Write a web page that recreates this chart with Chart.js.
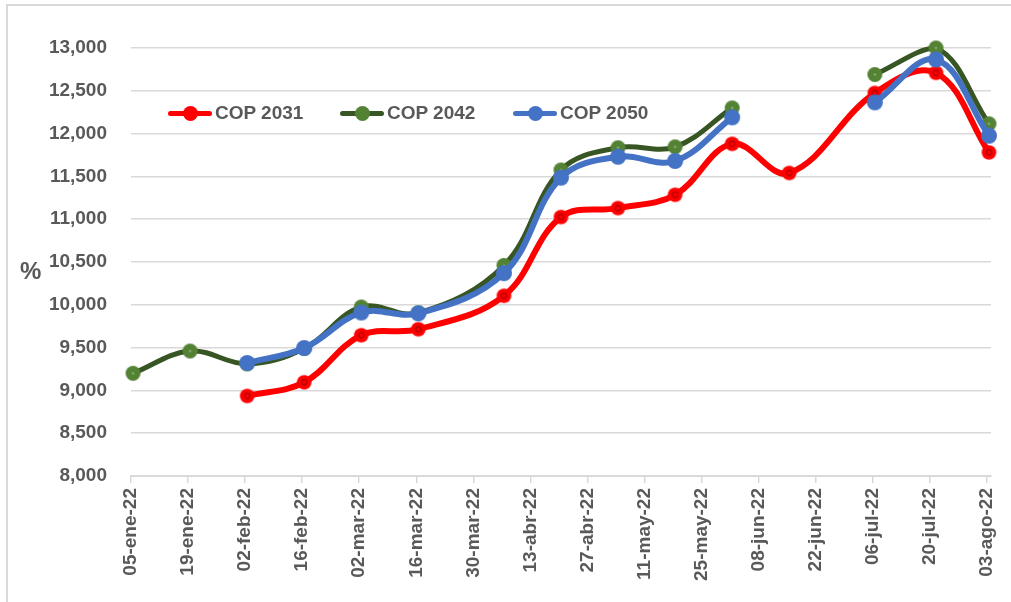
<!DOCTYPE html>
<html>
<head>
<meta charset="utf-8">
<script src="https://cdn.jsdelivr.net/npm/chart.js@4.4.1/dist/chart.umd.min.js"></script>
<style>
  html, body { margin: 0; padding: 0; background: #ffffff; overflow: hidden; }
  #wrap { position: relative; width: 1011px; height: 602px; overflow: hidden; }
  #frame { position: absolute; left: 6px; top: 4px; width: 1100px; height: 700px; border: 2px solid #D9D9D9; box-sizing: border-box; }
  canvas { position: absolute; left: 0; top: 0; }
  .lbl { position: absolute; font-family: "Liberation Sans", Arial, sans-serif; font-weight: bold; color: #595959; }
  .leg { position: absolute; height: 24px; }
  .leg .ln { position: absolute; left: 0; top: 10px; width: 44px; height: 5px; border-radius: 3px; }
  .leg .mk { position: absolute; left: 15px; top: 5px; width: 15px; height: 15px; border-radius: 50%; }
  .leg .tx { position: absolute; left: 47px; top: 0; font-family: "Liberation Sans", Arial, sans-serif; font-weight: bold; font-size: 19px; line-height: 24px; color: #595959; white-space: nowrap; }
</style>
</head>
<body>
<div id="wrap">
  <div id="frame"></div>
  <canvas id="c" width="1011" height="602"></canvas>
  <div class="lbl" id="pct" style="left:20px; top:256px; font-size:24px; line-height:30px;">%</div>
  <div class="leg" style="left:168px; top:101px;"><div class="ln" style="background:#FF0000"></div><div class="mk" style="background:#FF0000"></div><div class="tx">COP 2031</div></div>
  <div class="leg" style="left:340px; top:101px;"><div class="ln" style="background:#375623"></div><div class="mk" style="background:#548235"></div><div class="tx">COP 2042</div></div>
  <div class="leg" style="left:513px; top:101px;"><div class="ln" style="background:#4472C4"></div><div class="mk" style="background:#4472C4"></div><div class="tx">COP 2050</div></div>
</div>
<script>
// ---- DATA ----
const pointDates = ['2022-01-05','2022-01-19','2022-02-02','2022-02-16','2022-03-02','2022-03-16','2022-04-06','2022-04-20','2022-05-04','2022-05-18','2022-06-01','2022-06-15','2022-07-06','2022-07-21','2022-08-03'];
const cop2031 = [null, null, 8935, 9095, 9645, 9715, 10105, 11025, 11130, 11285, 11880, 11540, 12475, 12710, 11780];
const cop2042 = [9200, 9460, 9310, 9490, 9975, 9905, 10460, 11575, 11835, 11845, 12300, null, 12690, 13000, 12115];
const cop2050 = [null, null, 9320, 9495, 9910, 9900, 10370, 11485, 11730, 11680, 12190, null, 12365, 12865, 11975];
const tickLabels = ['05-ene-22','19-ene-22','02-feb-22','16-feb-22','02-mar-22','16-mar-22','30-mar-22','13-abr-22','27-abr-22','11-may-22','25-may-22','08-jun-22','22-jun-22','06-jul-22','20-jul-22','03-ago-22'];
const seriesNames = ['COP 2031', 'COP 2042', 'COP 2050'];
const yTicks = [8000, 8500, 9000, 9500, 10000, 10500, 11000, 11500, 12000, 12500, 13000];

// ---- helpers ----
const TICK_STEP = 14;
const AXIS_START = Date.UTC(2022, 0, 5);
function dayPos(s) {
  const [y, m, d] = s.split('-').map(Number);
  // Excel date axis: each day is a slot, points sit in the middle of their slot
  return (Date.UTC(y, m - 1, d) - AXIS_START) / 86400000 + 0.5;
}
function toXY(vals) {
  return vals.map((v, i) => ({ x: dayPos(pointDates[i]), y: v }));
}
function marker(r, fill, ring, dot) {
  const c = document.createElement('canvas');
  const s = Math.ceil(r * 2 + 2);
  c.width = s; c.height = s;
  const g = c.getContext('2d');
  g.beginPath(); g.arc(s / 2, s / 2, r, 0, Math.PI * 2); g.fillStyle = fill; g.fill();
  if (ring) { g.beginPath(); g.arc(s / 2, s / 2, 2.6, 0, Math.PI * 2); g.strokeStyle = ring; g.lineWidth = 1.1; g.stroke(); }
  if (dot) { g.beginPath(); g.arc(s / 2, s / 2, 0.9, 0, Math.PI * 2); g.fillStyle = dot; g.fill(); }
  return c;
}

const FONT = { family: '"Liberation Sans", Arial, sans-serif', size: 19, weight: 'bold' };

new Chart(document.getElementById('c'), {
  type: 'line',
  data: {
    datasets: [
      { label: seriesNames[0], data: toXY(cop2031), borderColor: '#FF0000', borderWidth: 6, tension: 0.38,
        pointStyle: marker(7.3, '#FF0000', '#B00000', null), order: 3, spanGaps: false, clip: false },
      { label: seriesNames[1], data: toXY(cop2042), borderColor: '#375623', borderWidth: 5, tension: 0.38,
        pointStyle: marker(7.5, '#548235', null, '#A9D18E'), order: 2, spanGaps: false, clip: false },
      { label: seriesNames[2], data: toXY(cop2050), borderColor: '#4472C4', borderWidth: 6, tension: 0.38,
        pointStyle: marker(8, '#4472C4', null, null), order: 1, spanGaps: false, clip: false }
    ]
  },
  options: {
    responsive: false,
    animation: false,
    layout: { padding: { left: 0, top: 48, right: 20, bottom: 0 } },
    plugins: { legend: { display: false }, tooltip: { enabled: false } },
    scales: {
      x: {
        type: 'linear',
        min: 0,
        max: (tickLabels.length - 1) * TICK_STEP + 1,
        afterBuildTicks: (s) => { s.ticks = tickLabels.map((_, i) => ({ value: i * TICK_STEP })); },
        afterFit: (s) => { s.height = 126; s.paddingLeft = 0; s.paddingRight = 0; },
        ticks: {
          autoSkip: false, minRotation: 90, maxRotation: 90, padding: 5,
          color: '#595959', font: FONT,
          callback: (v) => tickLabels[Math.round(v / TICK_STEP)]
        },
        grid: { display: true, drawOnChartArea: false, drawTicks: true, tickLength: 7, color: '#D9D9D9', lineWidth: 1.5 },
        border: { display: true, color: '#D9D9D9', width: 2 }
      },
      y: {
        min: yTicks[0],
        max: yTicks[yTicks.length - 1],
        afterBuildTicks: (s) => { s.ticks = yTicks.map(v => ({ value: v })); },
        afterFit: (s) => { s.width = 131; s.paddingTop = 0; s.paddingBottom = 0; },
        ticks: {
          padding: 24, color: '#595959', font: FONT,
          callback: (v) => v.toLocaleString('en-US')
        },
        grid: { color: '#D9D9D9', lineWidth: 1.5, drawTicks: false },
        border: { display: false }
      }
    }
  }
});
</script>
</body>
</html>
